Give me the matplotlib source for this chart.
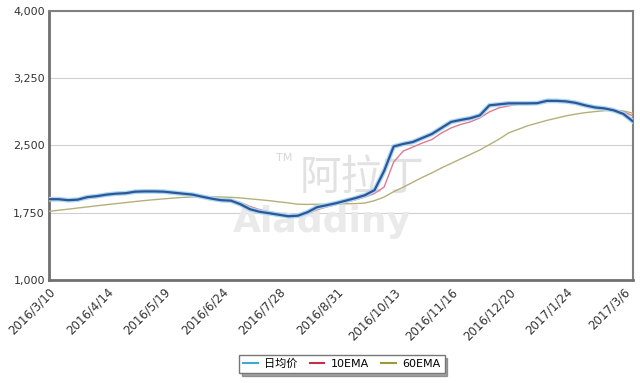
import matplotlib
matplotlib.use("Agg")
import matplotlib.pyplot as plt
from matplotlib.ticker import FuncFormatter
import matplotlib.patheffects as pe

plt.rcParams['font.family'] = ['DejaVu Sans', 'Noto Sans CJK SC']

# trading-day index of each sampled point (every 4th trading day)
idx = list(range(0, 245, 4))

daily = [1901, 1901, 1890, 1896, 1924, 1935, 1952, 1963, 1968, 1985,
         1988, 1988, 1985, 1974, 1963, 1952, 1929, 1907, 1890, 1885,
         1845, 1789, 1761, 1745, 1728, 1711, 1717, 1756, 1812, 1834,
         1857, 1885, 1913, 1946, 2002, 2215, 2489, 2517, 2539, 2584,
         2629, 2696, 2763, 2785, 2804, 2836, 2948, 2959, 2970, 2970,
         2970, 2972, 2998, 2998, 2992, 2976, 2948, 2925, 2914, 2892,
         2852, 2769]

ema10 = [1885, 1890, 1892, 1893, 1908, 1922, 1940, 1953, 1962, 1973,
         1982, 1986, 1986, 1979, 1970, 1958, 1940, 1920, 1900, 1888,
         1865, 1820, 1785, 1760, 1742, 1725, 1718, 1740, 1785, 1815,
         1842, 1868, 1895, 1925, 1965, 2036, 2315, 2438, 2483, 2528,
         2567, 2640, 2696, 2735, 2763, 2808, 2875, 2920, 2942, 2959,
         2964, 2967, 2981, 2992, 2992, 2981, 2959, 2936, 2920, 2897,
         2875, 2830]

ema60 = [1765, 1778, 1790, 1803, 1815, 1828, 1840, 1852, 1863, 1875,
         1886, 1896, 1905, 1914, 1921, 1926, 1928, 1928, 1926, 1922,
         1915, 1905, 1895, 1885, 1872, 1860, 1845, 1843, 1845, 1846,
         1848, 1850, 1852, 1858, 1885, 1925, 1985, 2035, 2090, 2145,
         2195, 2250, 2300, 2350, 2400, 2450, 2510, 2570, 2640, 2680,
         2720, 2750, 2780, 2805, 2830, 2850, 2866, 2878, 2888, 2895,
         2885, 2860]

tick_pos = [0, 24, 48, 72, 96, 120, 144, 168, 192, 216, 240]
tick_labels = ["2016/3/10", "2016/4/14", "2016/5/19", "2016/6/24", "2016/7/28",
               "2016/8/31", "2016/10/13", "2016/11/16", "2016/12/20",
               "2017/1/24", "2017/3/6"]

yticks = [1000, 1750, 2500, 3250, 4000]

fig = plt.figure(figsize=(6.4, 3.83), dpi=100)
ax = fig.add_axes([49/640, 1-280/383, 584/640, 269/383])

# watermark (behind the lines)
tf = fig.transFigure
ax.text(362/640, 1-178/383, "阿拉丁", fontsize=30, color="#e2e2e2",
        family=['Noto Sans CJK SC'], ha='center', va='center', zorder=1, transform=tf)
ax.text(322/640, 1-222/383, "Aladdiny", fontsize=26, color="#eaeaea",
        fontweight='bold', ha='center', va='center', zorder=1, transform=tf)
ax.text(284/640, 1-158/383, "TM", fontsize=8, color="#d8d8d8",
        ha='center', va='center', zorder=1, transform=tf)

ax.plot(idx, ema60, color="#b5b07a", lw=1.0, zorder=3, label="60EMA")
ax.plot(idx, ema10, color="#e07a8c", lw=1.0, zorder=4, label="10EMA")
ax.plot(idx, daily, color="#2f5597", lw=1.6, zorder=5, label="日均价",
        path_effects=[pe.Stroke(linewidth=3.4, foreground="#a8d8f2"), pe.Normal()])

ax.set_xlim(0, 244)
ax.set_ylim(1000, 4000)
ax.set_yticks(yticks)
ax.yaxis.set_major_formatter(FuncFormatter(lambda v, p: f"{int(v):,}"))
ax.set_xticks(tick_pos)
ax.set_xticklabels(tick_labels, rotation=45, ha='right', va='top',
                   rotation_mode='anchor', fontsize=8.5, color="#333333")
ax.tick_params(axis='y', labelsize=8, colors="#333333", length=0, pad=3)
ax.tick_params(axis='x', length=0, pad=4)
ax.grid(axis='y', color="#d0d0d0", lw=0.8)
ax.set_axisbelow(True)
ax.patch.set_alpha(0)

for s in ['left', 'bottom']:
    ax.spines[s].set_color("#707070")
    ax.spines[s].set_linewidth(2.0)
for s in ['top', 'right']:
    ax.spines[s].set_color("#808080")
    ax.spines[s].set_linewidth(1.5)

h, l = ax.get_legend_handles_labels()
order = [2, 1, 0]
leg = fig.legend([h[i] for i in order], [l[i] for i in order], ncol=3,
                 loc='center', bbox_to_anchor=(342/640, 1-364/383),
                 frameon=True, fancybox=False, shadow=True,
                 handlelength=1.3, handletextpad=0.6, columnspacing=1.1,
                 borderpad=0.35,
                 prop={'family': ['DejaVu Sans', 'Noto Sans CJK SC'], 'size': 8})
leg.get_frame().set_edgecolor("#777777")
leg.get_frame().set_linewidth(1.0)
leg.legend_handles[0].set_color("#3aa8d8")
leg.legend_handles[0].set_path_effects([])
leg.legend_handles[0].set_linewidth(1.5)
leg.legend_handles[1].set_color("#c0304a")
leg.legend_handles[1].set_linewidth(1.5)
leg.legend_handles[2].set_color("#9a9a3a")
leg.legend_handles[2].set_linewidth(1.5)

fig.savefig("out.png", dpi=100)
